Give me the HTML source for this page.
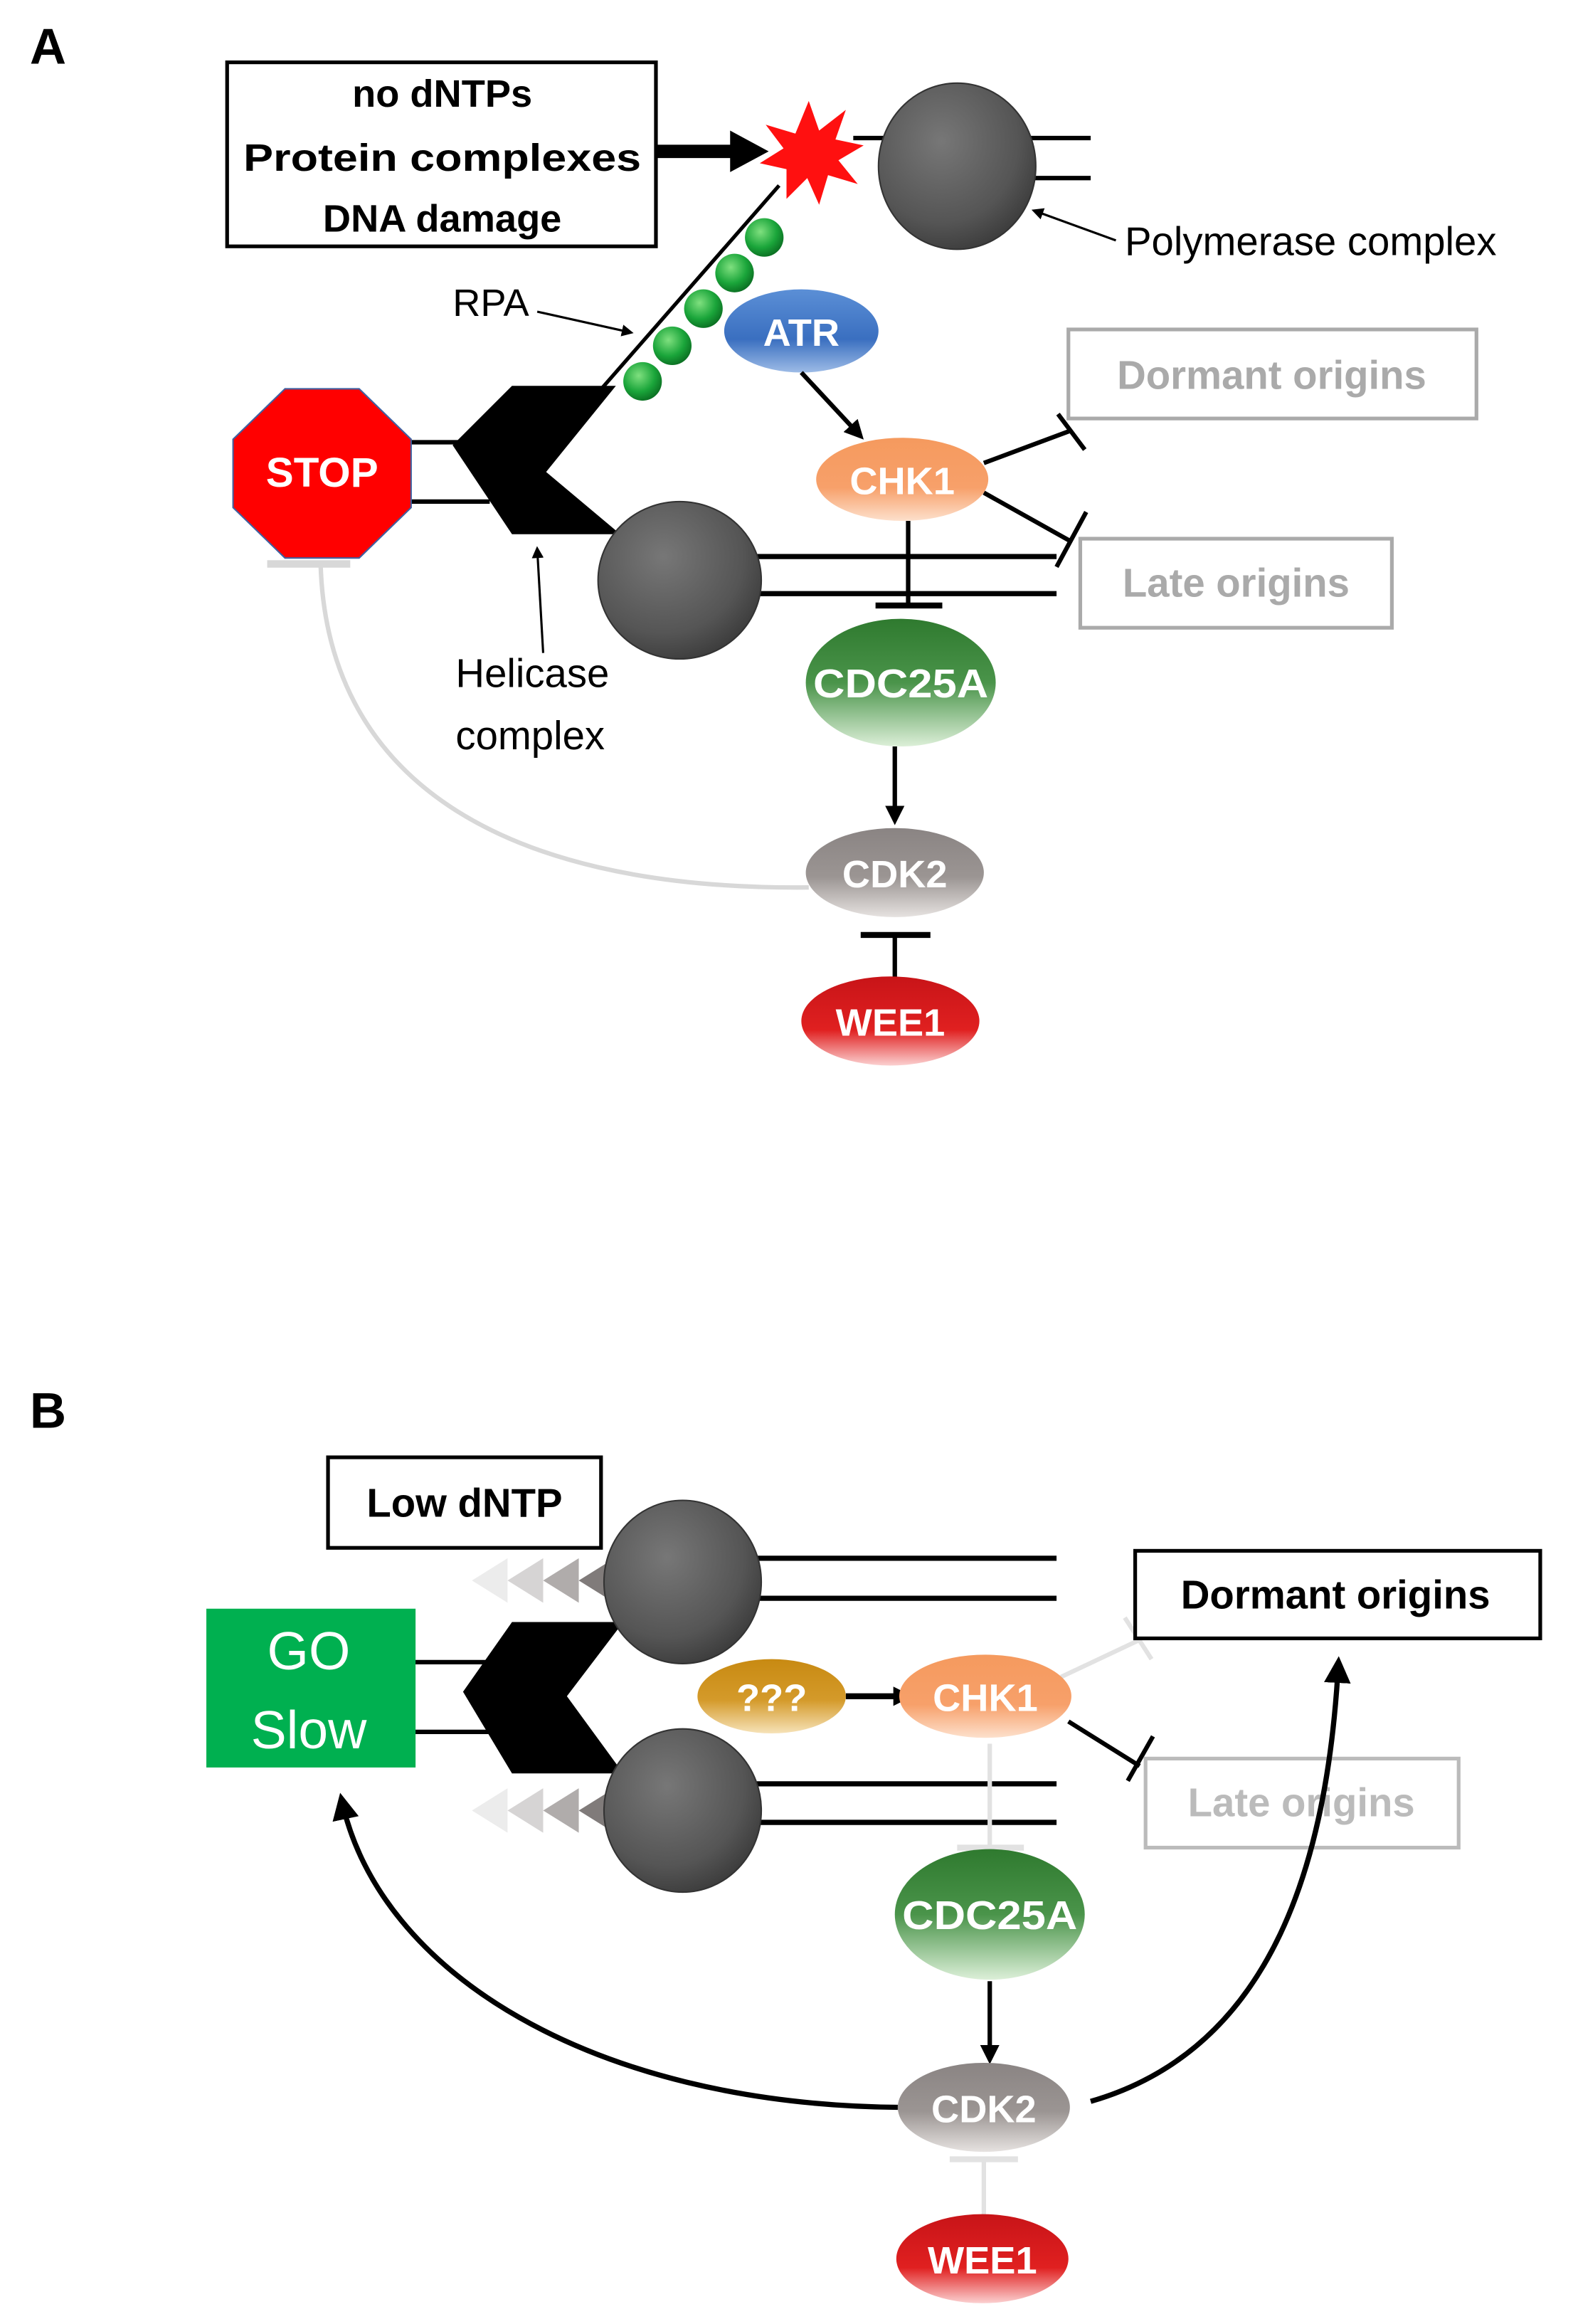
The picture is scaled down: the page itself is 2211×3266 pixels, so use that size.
<!DOCTYPE html>
<html><head><meta charset="utf-8"><style>
html,body{margin:0;padding:0;background:#fff;}
svg{display:block;}
text{font-family:"Liberation Sans",sans-serif;}
</style></head><body>
<svg width="2211" height="3266" viewBox="0 0 1060 1566" xmlns="http://www.w3.org/2000/svg">
<defs>
<radialGradient id="gc" cx="0.4" cy="0.35" r="0.7"><stop offset="0" stop-color="#777"/><stop offset="0.7" stop-color="#555"/><stop offset="1" stop-color="#3a3a3a"/></radialGradient>
<linearGradient id="gb" x1="0" y1="0" x2="0" y2="1"><stop offset="0" stop-color="#5b8fd6"/><stop offset="0.6" stop-color="#3a6fc0"/><stop offset="1" stop-color="#9dbbe6"/></linearGradient>
<linearGradient id="go" x1="0" y1="0" x2="0" y2="1"><stop offset="0" stop-color="#f59a5e"/><stop offset="0.6" stop-color="#f7a06a"/><stop offset="1" stop-color="#fde0cc"/></linearGradient>
<linearGradient id="gg" x1="0" y1="0" x2="0" y2="1"><stop offset="0" stop-color="#2f7a2f"/><stop offset="0.5" stop-color="#4a944a"/><stop offset="1" stop-color="#dcefd8"/></linearGradient>
<linearGradient id="gk" x1="0" y1="0" x2="0" y2="1"><stop offset="0" stop-color="#8a8483"/><stop offset="0.55" stop-color="#9b9593"/><stop offset="1" stop-color="#e6e2e0"/></linearGradient>
<linearGradient id="gr" x1="0" y1="0" x2="0" y2="1"><stop offset="0" stop-color="#c81418"/><stop offset="0.6" stop-color="#e02020"/><stop offset="1" stop-color="#fbd0d0"/></linearGradient>
<linearGradient id="gy" x1="0" y1="0" x2="0" y2="1"><stop offset="0" stop-color="#c88a12"/><stop offset="0.55" stop-color="#d49a2a"/><stop offset="1" stop-color="#f6e2b8"/></linearGradient>
<radialGradient id="gbead" cx="0.4" cy="0.35" r="0.7"><stop offset="0" stop-color="#7fe07f"/><stop offset="0.6" stop-color="#1aa53a"/><stop offset="1" stop-color="#0a6a20"/></radialGradient>
<marker id="ar" markerWidth="8" markerHeight="8" refX="6" refY="4" orient="auto" markerUnits="userSpaceOnUse" viewBox="0 0 8 8"><path d="M0,0 L8,4 L0,8 z" fill="#000"/></marker>
<marker id="ar2" markerWidth="18" markerHeight="18" refX="14" refY="9" orient="auto" markerUnits="userSpaceOnUse" viewBox="0 0 18 18"><path d="M0,0 L18,9 L0,18 z" fill="#000"/></marker>
<marker id="ar3" markerWidth="13" markerHeight="13" refX="10" refY="6.5" orient="auto" markerUnits="userSpaceOnUse" viewBox="0 0 13 13"><path d="M0,0 L13,6.5 L0,13 z" fill="#000"/></marker>
</defs>

<!-- ===== Panel A ===== -->
<text x="20" y="43" font-size="34" font-weight="bold">A</text>
<rect x="153" y="42" width="289" height="124" fill="#fff" stroke="#000" stroke-width="2.5"/>
<text x="298" y="72" font-size="26" font-weight="bold" text-anchor="middle">no dNTPs</text>
<text x="298" y="115" font-size="26" font-weight="bold" text-anchor="middle" textLength="268" lengthAdjust="spacingAndGlyphs">Protein complexes</text>
<text x="298" y="156" font-size="26" font-weight="bold" text-anchor="middle">DNA damage</text>
<line x1="442" y1="102" x2="500" y2="102" stroke="#000" stroke-width="9"/>
<path d="M492,88 L518,102 L492,116 z" fill="#000"/>
<path d="M545,68 L552,88 L570,74 L563,94 L582,98 L565,108 L578,124 L558,118 L552,138 L544,120 L530,134 L530,114 L512,110 L528,100 L516,84 L536,90 z" fill="#ff1010"/>
<line x1="575" y1="93" x2="735" y2="93" stroke="#000" stroke-width="3"/>
<line x1="690" y1="120" x2="735" y2="120" stroke="#000" stroke-width="3"/>
<ellipse cx="645" cy="112" rx="53" ry="56" fill="url(#gc)" stroke="#333" stroke-width="1"/>
<line x1="752" y1="162" x2="697" y2="142" stroke="#000" stroke-width="1.5" marker-end="url(#ar)"/>
<text x="758" y="172" font-size="27">Polymerase complex</text>
<line x1="525" y1="125" x2="400" y2="268" stroke="#000" stroke-width="2.5"/>
<circle cx="515" cy="160" r="13" fill="url(#gbead)"/>
<circle cx="495" cy="184" r="13" fill="url(#gbead)"/>
<circle cx="474" cy="208" r="13" fill="url(#gbead)"/>
<circle cx="453" cy="233" r="13" fill="url(#gbead)"/>
<circle cx="433" cy="257" r="13" fill="url(#gbead)"/>
<text x="305" y="213" font-size="26">RPA</text>
<line x1="362" y1="210" x2="425" y2="224" stroke="#000" stroke-width="1.5" marker-end="url(#ar)"/>
<ellipse cx="540" cy="223" rx="52" ry="28" fill="url(#gb)"/>
<text x="540" y="233" font-size="26" font-weight="bold" fill="#fff" text-anchor="middle">ATR</text>
<line x1="540" y1="251" x2="580" y2="294" stroke="#000" stroke-width="3" marker-end="url(#ar3)"/>
<rect x="720" y="222" width="275" height="60" fill="#fff" stroke="#aaa" stroke-width="2.5"/>
<text x="857" y="262" font-size="27" font-weight="bold" fill="#aaa" text-anchor="middle">Dormant origins</text>
<line x1="270" y1="298" x2="330" y2="298" stroke="#000" stroke-width="3"/>
<line x1="270" y1="338" x2="330" y2="338" stroke="#000" stroke-width="3"/>
<polygon points="192,262 242,262 277,296 277,342 242,376 192,376 157,342 157,296" fill="#ff0000" stroke="#4060a0" stroke-width="1"/>
<text x="217" y="328" font-size="28" font-weight="bold" fill="#fff" text-anchor="middle">STOP</text>
<polygon points="305,300 345,260 415,260 368,318 418,360 345,360" fill="#000"/>
<line x1="505" y1="375" x2="712" y2="375" stroke="#000" stroke-width="3.5"/>
<line x1="505" y1="400" x2="712" y2="400" stroke="#000" stroke-width="3.5"/>
<ellipse cx="458" cy="391" rx="55" ry="53" fill="url(#gc)" stroke="#333" stroke-width="1"/>
<line x1="663" y1="312" x2="722" y2="290" stroke="#000" stroke-width="3"/>
<line x1="713" y1="279" x2="731" y2="303" stroke="#000" stroke-width="3"/>
<line x1="663" y1="332" x2="722" y2="365" stroke="#000" stroke-width="3"/>
<line x1="732" y1="345" x2="712" y2="382" stroke="#000" stroke-width="3"/>
<ellipse cx="608" cy="323" rx="58" ry="28" fill="url(#go)"/>
<text x="608" y="333" font-size="26" font-weight="bold" fill="#fff" text-anchor="middle">CHK1</text>
<rect x="728" y="363" width="210" height="60" fill="#fff" stroke="#aaa" stroke-width="2.5"/>
<text x="833" y="402" font-size="27" font-weight="bold" fill="#aaa" text-anchor="middle">Late origins</text>
<line x1="612" y1="351" x2="612" y2="408" stroke="#000" stroke-width="3"/>
<line x1="590" y1="408" x2="635" y2="408" stroke="#000" stroke-width="4"/>
<line x1="366" y1="440" x2="362" y2="370" stroke="#000" stroke-width="1.5" marker-end="url(#ar)"/>
<text x="307" y="463" font-size="27">Helicase</text>
<text x="307" y="505" font-size="27">complex</text>
<ellipse cx="607" cy="460" rx="64" ry="43" fill="url(#gg)"/>
<text x="607" y="470" font-size="27" font-weight="bold" fill="#fff" text-anchor="middle" textLength="118" lengthAdjust="spacingAndGlyphs">CDC25A</text>
<line x1="603" y1="503" x2="603" y2="553" stroke="#000" stroke-width="3" marker-end="url(#ar3)"/>
<path d="M545,598 C 330,600 220,520 216,380" fill="none" stroke="#d8d8d8" stroke-width="3"/>
<line x1="180" y1="380" x2="236" y2="380" stroke="#d8d8d8" stroke-width="5"/>
<ellipse cx="603" cy="588" rx="60" ry="30" fill="url(#gk)"/>
<text x="603" y="598" font-size="26" font-weight="bold" fill="#fff" text-anchor="middle">CDK2</text>
<line x1="603" y1="630" x2="603" y2="662" stroke="#000" stroke-width="3"/>
<line x1="580" y1="630" x2="627" y2="630" stroke="#000" stroke-width="4"/>
<ellipse cx="600" cy="688" rx="60" ry="30" fill="url(#gr)"/>
<text x="600" y="698" font-size="26" font-weight="bold" fill="#fff" text-anchor="middle">WEE1</text>

<!-- ===== Panel B ===== -->
<text x="20" y="962" font-size="34" font-weight="bold">B</text>
<rect x="221" y="982" width="184" height="61" fill="#fff" stroke="#000" stroke-width="2.5"/>
<text x="313" y="1022" font-size="27" font-weight="bold" text-anchor="middle">Low dNTP</text>
<line x1="505" y1="1050" x2="712" y2="1050" stroke="#000" stroke-width="3.5"/>
<line x1="505" y1="1077" x2="712" y2="1077" stroke="#000" stroke-width="3.5"/>
<line x1="505" y1="1202" x2="712" y2="1202" stroke="#000" stroke-width="3.5"/>
<line x1="505" y1="1228" x2="712" y2="1228" stroke="#000" stroke-width="3.5"/>
<g>
<path d="M342,1050 L318,1065 L342,1080 z" fill="#ececec"/>
<path d="M366,1050 L342,1065 L366,1080 z" fill="#d6d4d4"/>
<path d="M390,1050 L366,1065 L390,1080 z" fill="#b0acab"/>
<path d="M414,1050 L390,1065 L414,1080 z" fill="#807b7a"/>
<path d="M342,1205 L318,1220 L342,1235 z" fill="#ececec"/>
<path d="M366,1205 L342,1220 L366,1235 z" fill="#d6d4d4"/>
<path d="M390,1205 L366,1220 L390,1235 z" fill="#b0acab"/>
<path d="M414,1205 L390,1220 L414,1235 z" fill="#807b7a"/>
</g>
<line x1="278" y1="1120" x2="330" y2="1120" stroke="#000" stroke-width="3"/>
<line x1="278" y1="1167" x2="330" y2="1167" stroke="#000" stroke-width="3"/>
<rect x="139" y="1084" width="141" height="107" fill="#00b050"/>
<text x="208" y="1125" font-size="36" fill="#fff" text-anchor="middle">GO</text>
<text x="208" y="1178" font-size="36" fill="#fff" text-anchor="middle">Slow</text>
<polygon points="312,1140 345,1093 420,1093 382,1143 420,1195 345,1195" fill="#000"/>
<ellipse cx="460" cy="1066" rx="53" ry="55" fill="url(#gc)" stroke="#333" stroke-width="1"/>
<ellipse cx="460" cy="1220" rx="53" ry="55" fill="url(#gc)" stroke="#333" stroke-width="1"/>
<ellipse cx="520" cy="1143" rx="50" ry="25" fill="url(#gy)"/>
<text x="520" y="1153" font-size="26" font-weight="bold" fill="#fff" text-anchor="middle">???</text>
<line x1="570" y1="1143" x2="612" y2="1143" stroke="#000" stroke-width="4" marker-end="url(#ar3)"/>
<line x1="715" y1="1130" x2="768" y2="1105" stroke="#e2e2e2" stroke-width="3"/>
<line x1="758" y1="1090" x2="776" y2="1118" stroke="#e2e2e2" stroke-width="3"/>
<line x1="720" y1="1160" x2="768" y2="1190" stroke="#000" stroke-width="3"/>
<line x1="777" y1="1170" x2="760" y2="1200" stroke="#000" stroke-width="3"/>
<ellipse cx="664" cy="1143" rx="58" ry="28" fill="url(#go)"/>
<text x="664" y="1153" font-size="26" font-weight="bold" fill="#fff" text-anchor="middle">CHK1</text>
<rect x="765" y="1045" width="273" height="59" fill="#fff" stroke="#000" stroke-width="2.5"/>
<text x="900" y="1084" font-size="27" font-weight="bold" text-anchor="middle">Dormant origins</text>
<rect x="772" y="1185" width="211" height="60" fill="#fff" stroke="#bbb" stroke-width="2.5"/>
<text x="877" y="1224" font-size="27" font-weight="bold" fill="#bbb" text-anchor="middle">Late origins</text>
<line x1="667" y1="1175" x2="667" y2="1245" stroke="#e2e2e2" stroke-width="3"/>
<line x1="645" y1="1245" x2="690" y2="1245" stroke="#e2e2e2" stroke-width="4"/>
<ellipse cx="667" cy="1290" rx="64" ry="44" fill="url(#gg)"/>
<text x="667" y="1300" font-size="27" font-weight="bold" fill="#fff" text-anchor="middle" textLength="118" lengthAdjust="spacingAndGlyphs">CDC25A</text>
<line x1="667" y1="1335" x2="667" y2="1388" stroke="#000" stroke-width="3" marker-end="url(#ar3)"/>
<path d="M605,1420 C 400,1418 255,1330 230,1212" fill="none" stroke="#000" stroke-width="3.5" marker-end="url(#ar2)"/>
<path d="M735,1416 C 860,1380 895,1250 902,1120" fill="none" stroke="#000" stroke-width="3.5" marker-end="url(#ar2)"/>
<ellipse cx="663" cy="1420" rx="58" ry="30" fill="url(#gk)"/>
<text x="663" y="1430" font-size="26" font-weight="bold" fill="#fff" text-anchor="middle">CDK2</text>
<line x1="663" y1="1455" x2="663" y2="1495" stroke="#e2e2e2" stroke-width="3"/>
<line x1="640" y1="1455" x2="686" y2="1455" stroke="#e2e2e2" stroke-width="4"/>
<ellipse cx="662" cy="1522" rx="58" ry="30" fill="url(#gr)"/>
<text x="662" y="1532" font-size="26" font-weight="bold" fill="#fff" text-anchor="middle">WEE1</text>
</svg>
</body></html>
